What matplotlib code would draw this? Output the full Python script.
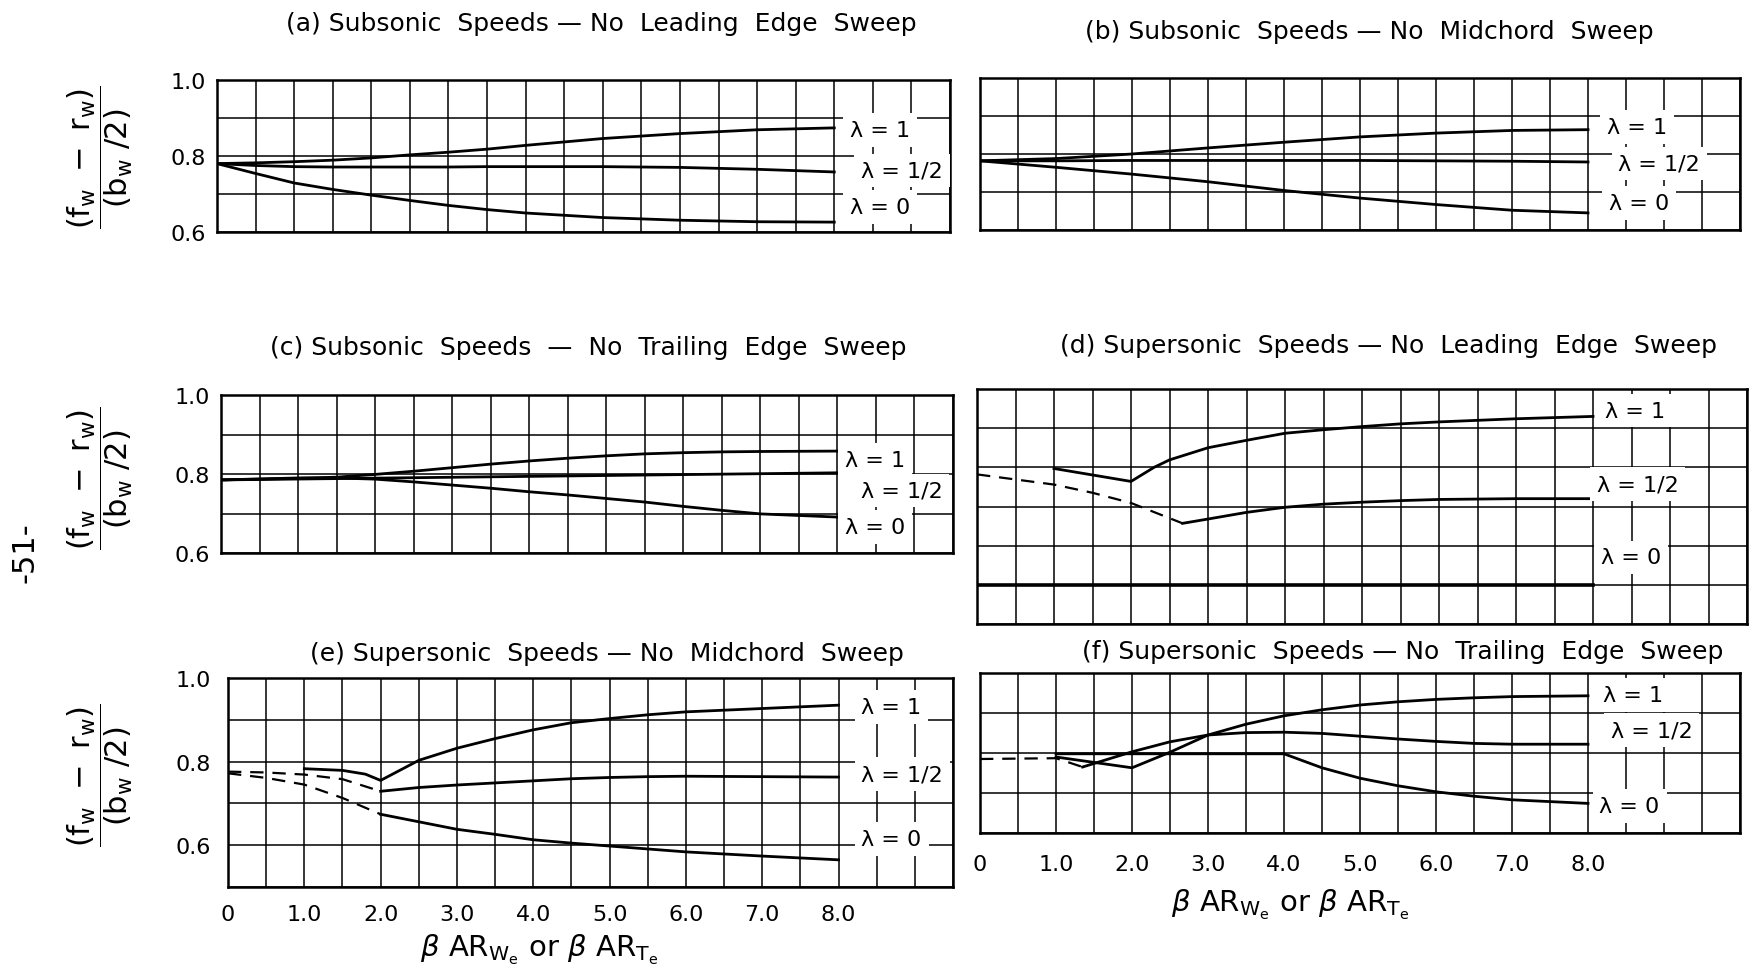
import numpy as np
import matplotlib.pyplot as plt

plt.rcParams['font.family'] = 'DejaVu Sans'
plt.rcParams['mathtext.fontset'] = 'dejavusans'

W, H = 1762, 970

# ---- values ----
# (a) subsonic, no leading edge sweep
a_x = [0, 0.5, 1, 1.5, 2, 2.5, 3, 3.5, 4, 5, 6, 7, 8]
a_l1 = [0.78, 0.782, 0.785, 0.789, 0.795, 0.803, 0.81, 0.818, 0.828, 0.846, 0.859, 0.869, 0.874]
a_lh = [0.78, 0.775, 0.772, 0.771, 0.771, 0.771, 0.771, 0.772, 0.772, 0.772, 0.770, 0.765, 0.758]
a_l0 = [0.78, 0.754, 0.729, 0.712, 0.697, 0.683, 0.670, 0.659, 0.650, 0.638, 0.631, 0.627, 0.626]

# (b) subsonic, no midchord sweep
b_x = [0, 1, 2, 3, 4, 5, 6, 7, 8]
b_l1 = [0.782, 0.788, 0.800, 0.816, 0.831, 0.845, 0.855, 0.862, 0.864]
b_lh = [0.782, 0.782, 0.783, 0.783, 0.783, 0.783, 0.782, 0.781, 0.779]
b_l0 = [0.782, 0.765, 0.747, 0.727, 0.704, 0.684, 0.667, 0.652, 0.645]

# (c) subsonic, no trailing edge sweep
c_x = [0, 1, 1.5, 2, 2.5, 3, 3.5, 4, 4.5, 5, 5.5, 6, 6.5, 7, 8]
c_l1 = [0.785, 0.789, 0.792, 0.799, 0.807, 0.816, 0.825, 0.833, 0.840, 0.846, 0.851, 0.854, 0.856, 0.857, 0.858]
c_l0 = [0.785, 0.790, 0.790, 0.787, 0.780, 0.772, 0.764, 0.755, 0.747, 0.738, 0.729, 0.718, 0.708, 0.699, 0.691]
c_lh_x = [0, 8]
c_lh = [0.785, 0.803]

# (d) supersonic, no leading edge sweep
d_dash_x = [0, 0.5, 1, 1.5, 2, 2.67]
d_dash = [0.782, 0.769, 0.756, 0.735, 0.709, 0.657]
d_l1_x = [1, 2, 2.3, 2.5, 3, 3.5, 4, 4.5, 5, 5.5, 6, 7, 8]
d_l1 = [0.797, 0.764, 0.800, 0.819, 0.850, 0.869, 0.887, 0.896, 0.904, 0.911, 0.916, 0.924, 0.930]
d_lh_x = [2.67, 3, 3.5, 4, 4.5, 5, 5.5, 6, 7, 8]
d_lh = [0.657, 0.668, 0.685, 0.698, 0.706, 0.711, 0.715, 0.718, 0.720, 0.720]
d_l0_x = [0, 8]
d_l0 = [0.5, 0.5]

# (e) supersonic, no midchord sweep
e_dash_x = [0, 0.5, 1, 1.5, 2]
e_dash_h = [0.776, 0.774, 0.769, 0.758, 0.729]
e_dash_0 = [0.772, 0.761, 0.745, 0.713, 0.674]
e_l1_x = [1, 1.5, 1.8, 2, 2.5, 3, 3.5, 4, 4.5, 5, 5.5, 6, 7, 8]
e_l1 = [0.783, 0.779, 0.770, 0.755, 0.803, 0.832, 0.855, 0.876, 0.893, 0.903, 0.912, 0.919, 0.927, 0.935]
e_x = [2, 2.5, 3, 3.5, 4, 4.5, 5, 5.5, 6, 7, 8]
e_lh = [0.729, 0.738, 0.744, 0.749, 0.754, 0.759, 0.762, 0.764, 0.765, 0.764, 0.763]
e_l0 = [0.674, 0.656, 0.638, 0.626, 0.613, 0.605, 0.598, 0.591, 0.584, 0.574, 0.565]

# (f) supersonic, no trailing edge sweep
f_dash_x = [0, 0.5, 1, 1.35]
f_dash = [0.785, 0.786, 0.787, 0.765]
f_l1_x = [1, 2, 2.5, 3, 3.5, 4, 4.5, 5, 5.5, 6, 6.5, 7, 8]
f_l1 = [0.790, 0.763, 0.802, 0.845, 0.872, 0.893, 0.908, 0.920, 0.928, 0.934, 0.938, 0.941, 0.943]
f_lh_x = [1.35, 2, 2.5, 3, 3.5, 4, 4.5, 5, 5.5, 6, 6.5, 7, 8]
f_lh = [0.765, 0.803, 0.828, 0.845, 0.851, 0.852, 0.849, 0.842, 0.835, 0.829, 0.824, 0.822, 0.822]
f_l0_x = [1, 4, 4.5, 5, 5.5, 6, 6.5, 7, 8]
f_l0 = [0.798, 0.798, 0.763, 0.737, 0.718, 0.703, 0.692, 0.683, 0.674]

titles = ['(a) Subsonic  Speeds \u2014 No  Leading  Edge  Sweep',
          '(b) Subsonic  Speeds \u2014 No  Midchord  Sweep',
          '(c) Subsonic  Speeds  \u2014  No  Trailing  Edge  Sweep',
          '(d) Supersonic  Speeds \u2014 No  Leading  Edge  Sweep',
          '(e) Supersonic  Speeds \u2014 No  Midchord  Sweep',
          '(f) Supersonic  Speeds \u2014 No  Trailing  Edge  Sweep']
x_tick_labels = ['0', '1.0', '2.0', '3.0', '4.0', '5.0', '6.0', '7.0', '8.0']
ylab = r'$\dfrac{(\mathrm{f_w\ -\ r_w})}{(\mathrm{b_w\ /2})}$'
xlab = r'$\beta\ \mathrm{AR}_{\mathrm{W_e}}$ or $\beta\ \mathrm{AR}_{\mathrm{T_e}}$'

fig = plt.figure(figsize=(W / 100, H / 100), dpi=100)


def panel(L, T, R, B, xmax, ymin):
    ax = fig.add_axes([L / W, 1 - B / H, (R - L) / W, (B - T) / H])
    ax.set_xlim(0, xmax)
    ax.set_ylim(ymin, 1.0)
    ax.set_xticks([i * 0.5 for i in range(int(xmax * 2) + 1)])
    ax.set_yticks([round(ymin + i * 0.1, 1) for i in range(int(round((1.0 - ymin) * 10)) + 1)])
    ax.grid(True, color='black', lw=1.1)
    ax.tick_params(length=0, labelbottom=False, labelleft=False)
    for s in ax.spines.values():
        s.set_linewidth(1.8)
    return ax


def ylabels(ax, labels):
    ax.set_yticklabels(labels)
    ax.tick_params(labelleft=True, labelsize=16, pad=8)


def xlabels(ax, pad):
    labs = []
    for t in ax.get_xticks():
        labs.append(x_tick_labels[int(t)] if t == int(t) and t <= 8 else '')
    ax.set_xticklabels(labs)
    ax.tick_params(labelbottom=True, labelsize=16, pad=pad)


def lam(ax, x, y, s):
    ax.text(x, y, s, fontsize=16, ha='left', va='center', zorder=5,
            bbox=dict(fc='white', ec='none', pad=5))


LW = 2.0

# (a)
ax = panel(217, 81, 950, 233, 9.5, 0.6)
ax.plot(a_x, a_l1, color='black', lw=LW)
ax.plot(a_x, a_lh, color='black', lw=LW)
ax.plot(a_x, a_l0, color='black', lw=LW)
ylabels(ax, ['0.6', '', '0.8', '', '1.0'])
lam(ax, 8.2, 0.868, '\u03bb = 1')
lam(ax, 8.35, 0.762, '\u03bb = 1/2')
lam(ax, 8.2, 0.665, '\u03bb = 0')

# (b)
ax = panel(980, 79, 1740, 231, 10, 0.6)
ax.plot(b_x, b_l1, color='black', lw=LW)
ax.plot(b_x, b_lh, color='black', lw=LW)
ax.plot(b_x, b_l0, color='black', lw=LW)
lam(ax, 8.25, 0.872, '\u03bb = 1')
lam(ax, 8.4, 0.775, '\u03bb = 1/2')
lam(ax, 8.28, 0.672, '\u03bb = 0')

# (c)
ax = panel(221, 396, 953, 554, 9.5, 0.6)
ax.plot(c_x, c_l1, color='black', lw=LW)
ax.plot(c_lh_x, c_lh, color='black', lw=LW)
ax.plot(c_x, c_l0, color='black', lw=LW)
ylabels(ax, ['0.6', '', '0.8', '', '1.0'])
lam(ax, 8.1, 0.835, '\u03bb = 1')
lam(ax, 8.3, 0.758, '\u03bb = 1/2')
lam(ax, 8.1, 0.665, '\u03bb = 0')

# (d)
ax = panel(977, 390, 1747, 625, 10, 0.4)
ax.plot(d_dash_x, d_dash, color='black', lw=1.6, ls=(0, (6, 4)))
ax.plot(d_l1_x, d_l1, color='black', lw=LW)
ax.plot(d_lh_x, d_lh, color='black', lw=LW)
ax.plot(d_l0_x, d_l0, color='black', lw=LW + 0.6)
lam(ax, 8.15, 0.945, '\u03bb = 1')
lam(ax, 8.05, 0.757, '\u03bb = 1/2')
lam(ax, 8.1, 0.57, '\u03bb = 0')

# (e)
ax = panel(228, 679, 953, 888, 9.5, 0.5)
ax.plot(e_dash_x, e_dash_h, color='black', lw=1.6, ls=(0, (6, 4)))
ax.plot(e_dash_x, e_dash_0, color='black', lw=1.6, ls=(0, (6, 4)))
ax.plot(e_l1_x, e_l1, color='black', lw=LW)
ax.plot(e_x, e_lh, color='black', lw=LW)
ax.plot(e_x, e_l0, color='black', lw=LW)
ylabels(ax, ['', '0.6', '', '0.8', '', '1.0'])
xlabels(ax, 12)
lam(ax, 8.3, 0.93, '\u03bb = 1')
lam(ax, 8.3, 0.77, '\u03bb = 1/2')
lam(ax, 8.3, 0.615, '\u03bb = 0')

# (f)
ax = panel(980, 674, 1740, 834, 10, 0.6)
ax.plot(f_dash_x, f_dash, color='black', lw=1.6, ls=(0, (6, 4)))
ax.plot(f_l1_x, f_l1, color='black', lw=LW)
ax.plot(f_lh_x, f_lh, color='black', lw=LW)
ax.plot(f_l0_x, f_l0, color='black', lw=LW)
xlabels(ax, 15)
lam(ax, 8.2, 0.945, '\u03bb = 1')
lam(ax, 8.3, 0.857, '\u03bb = 1/2')
lam(ax, 8.15, 0.667, '\u03bb = 0')

# titles, axis labels
title_pos = [(601, 24), (1369, 32), (588, 348), (1389, 346), (607, 654), (1403, 652)]
for t, (px, py) in zip(titles, title_pos):
    fig.text(px / W, 1 - py / H, t, fontsize=18, ha='center', va='center')

for py in [157, 478, 775]:
    fig.text(100 / W, 1 - py / H, ylab, fontsize=22, rotation=90, ha='center', va='center')

fig.text(539 / W, 1 - 950 / H, xlab, fontsize=21, ha='center', va='center')
fig.text(1290 / W, 1 - 905 / H, xlab, fontsize=21, ha='center', va='center')
fig.text(25 / W, 1 - 553 / H, '-51-', fontsize=22, rotation=90, ha='center', va='center')

plt.savefig('out.png', dpi=100)
